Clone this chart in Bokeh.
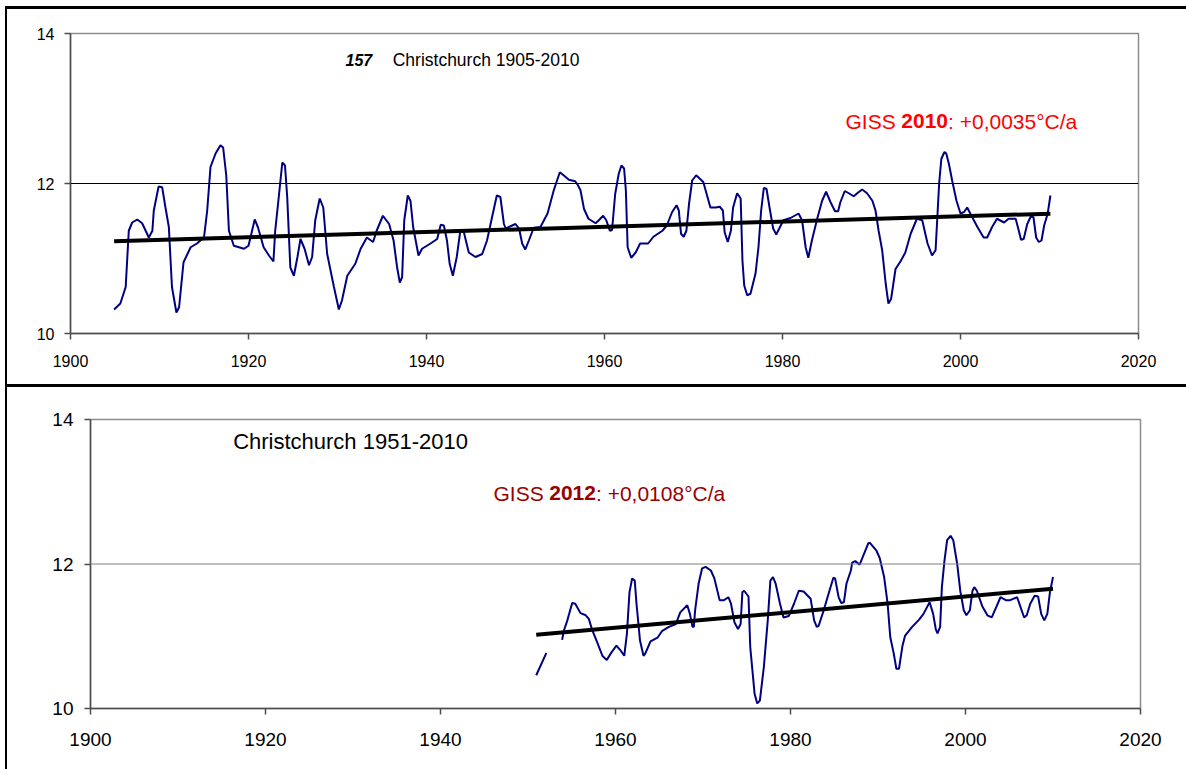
from bokeh.plotting import figure
from bokeh.layouts import column
from bokeh.models import Label, Span, FixedTicker, Range1d, InlineStyleSheet
from bokeh.embed import file_html
from bokeh.resources import INLINE

# ---- Christchurch, smoothed annual mean temperature (°C), 1905-2010 ----
top_year = [
    1904.9, 1905.6, 1906.2, 1906.55, 1906.93, 1907.5, 1908.05, 1908.8, 1909.2, 1909.36,
    1909.9, 1910.3, 1910.67, 1911.05, 1911.4, 1911.9, 1912.2, 1912.7, 1913.5, 1914.2,
    1915.0, 1915.36, 1915.73, 1916.3, 1916.85, 1917.15, 1917.5, 1917.8, 1918.35, 1919.5,
    1920.0, 1920.7, 1921.05, 1921.7, 1922.3, 1922.8, 1923.0, 1923.4, 1923.8, 1924.1,
    1924.35, 1924.7, 1925.1, 1925.5, 1925.84, 1926.3, 1926.8, 1927.15, 1927.5, 1928.0,
    1928.4, 1928.84, 1929.6, 1930.15, 1930.5, 1931.1, 1932.0, 1932.6, 1933.3, 1934.0,
    1934.4, 1935.1, 1935.8, 1936.3, 1936.7, 1937.0, 1937.26, 1937.5, 1937.9, 1938.2,
    1938.5, 1939.1, 1939.5, 1940.45, 1941.2, 1941.6, 1941.95, 1942.3, 1942.6, 1942.96,
    1943.4, 1943.8, 1944.2, 1944.75, 1945.5, 1946.26, 1946.8, 1947.4, 1947.9, 1948.3,
    1948.7, 1948.9, 1950.0, 1950.4, 1950.75, 1951.1, 1951.5, 1952.05, 1952.8, 1953.6,
    1954.3, 1954.98, 1955.4, 1956.0, 1956.7, 1957.0, 1957.3, 1957.7, 1958.2, 1959.0,
    1959.36, 1959.85, 1960.2, 1960.6, 1960.85, 1961.2, 1961.6, 1961.9, 1962.2, 1962.4,
    1962.6, 1963.0, 1963.5, 1964.0, 1964.9, 1965.5, 1966.5, 1967.0, 1967.6, 1968.1,
    1968.35, 1968.6, 1968.9, 1969.2, 1969.5, 1969.85, 1970.3, 1971.1, 1971.9, 1972.5,
    1972.95, 1973.3, 1973.5, 1973.85, 1974.2, 1974.45, 1974.9, 1975.3, 1975.5, 1975.7,
    1976.03, 1976.4, 1976.97, 1977.3, 1977.6, 1977.9, 1978.2, 1978.6, 1978.95, 1979.3,
    1980.1, 1980.9, 1981.8, 1982.2, 1982.6, 1982.9, 1983.3, 1983.9, 1984.45, 1984.9,
    1985.4, 1985.9, 1986.25, 1986.5, 1987.0, 1987.45, 1988.0, 1988.5, 1988.95, 1989.5,
    1990.1, 1990.45, 1990.8, 1991.2, 1991.6, 1991.9, 1992.2, 1992.7, 1993.3, 1993.8,
    1994.4, 1995.1, 1995.7, 1996.3, 1996.8, 1997.2, 1997.6, 1997.85, 1998.2, 1998.4,
    1998.7, 1999.06, 1999.55, 2000.0, 2000.4, 2000.75, 2001.1, 2001.9, 2002.6, 2003.0,
    2003.55, 2004.1, 2004.9, 2005.4, 2006.2, 2006.55, 2006.8, 2007.1, 2007.5, 2007.9,
    2008.2, 2008.5, 2008.8, 2009.1, 2009.4, 2009.8, 2010.1,
]
top_temp = [
    10.32, 10.40, 10.62, 11.37, 11.48, 11.52, 11.47, 11.28, 11.37, 11.64,
    11.96, 11.95, 11.68, 11.42, 10.62, 10.28, 10.35, 10.95, 11.15, 11.20,
    11.28, 11.64, 12.22, 12.40, 12.51, 12.48, 12.11, 11.37, 11.17, 11.13,
    11.17, 11.52, 11.42, 11.15, 11.04, 10.96, 11.37, 11.82, 12.28, 12.24,
    11.82, 10.88, 10.77, 11.02, 11.26, 11.13, 10.91, 11.02, 11.51, 11.80,
    11.68, 11.06, 10.62, 10.32, 10.44, 10.77, 10.93, 11.13, 11.28, 11.22,
    11.37, 11.57, 11.46, 11.24, 10.88, 10.68, 10.75, 11.51, 11.84, 11.77,
    11.42, 11.04, 11.13, 11.20, 11.26, 11.45, 11.44, 11.24, 10.93, 10.77,
    11.02, 11.37, 11.35, 11.08, 11.02, 11.06, 11.24, 11.57, 11.84, 11.82,
    11.46, 11.40, 11.46, 11.40, 11.20, 11.12, 11.24, 11.41, 11.42, 11.60,
    11.91, 12.15, 12.11, 12.05, 12.03, 11.98, 11.91, 11.66, 11.53, 11.47,
    11.51, 11.57, 11.51, 11.37, 11.38, 11.86, 12.13, 12.24, 12.20, 11.91,
    11.15, 11.01, 11.08, 11.20, 11.20, 11.29, 11.37, 11.44, 11.62, 11.71,
    11.64, 11.33, 11.29, 11.37, 11.73, 12.04, 12.11, 12.02, 11.68, 11.68,
    11.69, 11.64, 11.35, 11.22, 11.37, 11.68, 11.87, 11.80, 10.97, 10.64,
    10.51, 10.53, 10.80, 11.15, 11.64, 11.94, 11.93, 11.64, 11.40, 11.32,
    11.51, 11.54, 11.60, 11.51, 11.15, 11.01, 11.24, 11.53, 11.77, 11.89,
    11.75, 11.63, 11.63, 11.75, 11.90, 11.87, 11.83, 11.88, 11.92, 11.87,
    11.77, 11.64, 11.37, 11.11, 10.66, 10.40, 10.46, 10.86, 10.97, 11.08,
    11.33, 11.53, 11.51, 11.20, 11.04, 11.11, 12.00, 12.33, 12.42, 12.40,
    12.26, 12.04, 11.77, 11.60, 11.62, 11.68, 11.60, 11.42, 11.28, 11.28,
    11.42, 11.53, 11.48, 11.53, 11.53, 11.37, 11.25, 11.26, 11.46, 11.56,
    11.55, 11.28, 11.22, 11.24, 11.44, 11.60, 11.84,
]
top_trend_slope = 0.0035      # °C per year (GISS 2010)
top_trend_at_start = 11.23    # trend value at the first year

# ---- Christchurch, smoothed annual mean temperature (°C), 1951-2010 ----
NaN = float("nan")
bot_year = [
    1950.94, 1952.1, 1953.0, 1953.9, 1954.1, 1954.5, 1955.05, 1955.4, 1956.0, 1956.6,
    1956.95, 1957.3, 1957.9, 1958.5, 1959.0, 1959.5, 1960.1, 1960.6, 1961.0, 1961.3,
    1961.6, 1961.9, 1962.2, 1962.4, 1962.8, 1963.2, 1963.4, 1964.0, 1964.8, 1965.3,
    1966.1, 1966.9, 1967.4, 1968.2, 1968.5, 1968.8, 1968.95, 1969.1, 1969.5, 1969.9,
    1970.3, 1970.9, 1971.3, 1971.9, 1972.4, 1972.9, 1973.2, 1973.6, 1974.0, 1974.3,
    1974.5, 1974.7, 1975.2, 1975.4, 1975.9, 1976.2, 1976.5, 1976.95, 1977.4, 1977.7,
    1978.0, 1978.3, 1978.8, 1979.2, 1979.8, 1980.4, 1980.95, 1981.5, 1982.3, 1982.7,
    1983.0, 1983.2, 1983.8, 1984.4, 1984.9, 1985.1, 1985.5, 1985.8, 1986.1, 1986.4,
    1986.9, 1987.05, 1987.4, 1987.9, 1988.4, 1988.9, 1989.1, 1989.8, 1990.2, 1990.7,
    1991.1, 1991.4, 1991.8, 1992.1, 1992.4, 1992.8, 1993.1, 1993.9, 1994.7, 1995.2,
    1995.9, 1996.3, 1996.6, 1996.8, 1997.1, 1997.3, 1997.6, 1997.9, 1998.3, 1998.6,
    1999.05, 1999.4, 1999.8, 2000.1, 2000.5, 2000.8, 2001.0, 2001.3, 2001.9, 2002.5,
    2003.0, 2003.5, 2004.0, 2004.6, 2005.1, 2005.9, 2006.3, 2006.7, 2007.0, 2007.4,
    2007.9, 2008.3, 2008.65, 2009.0, 2009.35, 2009.65, 2010.0,
]
bot_temp = [
    10.46, 10.77, NaN, 10.95, 11.08, 11.22, 11.46, 11.45, 11.32, 11.29,
    11.24, 11.10, 10.92, 10.73, 10.67, 10.77, 10.87, 10.80, 10.73, 11.03,
    11.61, 11.80, 11.77, 11.45, 10.94, 10.73, 10.76, 10.93, 10.98, 11.07,
    11.13, 11.17, 11.33, 11.43, 11.31, 11.13, 11.13, 11.36, 11.73, 11.94,
    11.96, 11.91, 11.80, 11.50, 11.50, 11.54, 11.45, 11.19, 11.10, 11.17,
    11.61, 11.63, 11.55, 10.85, 10.20, 10.07, 10.11, 10.57, 11.22, 11.77,
    11.82, 11.73, 11.45, 11.26, 11.28, 11.45, 11.63, 11.62, 11.52, 11.22,
    11.13, 11.14, 11.36, 11.61, 11.81, 11.80, 11.54, 11.46, 11.47, 11.73,
    11.91, 12.02, 12.04, 11.99, 12.14, 12.29, 12.29, 12.19, 12.08, 11.82,
    11.45, 10.99, 10.76, 10.55, 10.55, 10.87, 11.01, 11.13, 11.23, 11.31,
    11.47, 11.31, 11.10, 11.04, 11.13, 11.68, 12.05, 12.33, 12.39, 12.33,
    12.00, 11.63, 11.36, 11.29, 11.36, 11.63, 11.68, 11.63, 11.42, 11.29,
    11.26, 11.40, 11.54, 11.50, 11.50, 11.54, 11.40, 11.26, 11.29, 11.45,
    11.56, 11.55, 11.31, 11.22, 11.31, 11.61, 11.82,
]
bot_trend_slope = 0.0108      # °C per year (GISS 2012)
bot_trend_at_start = 11.02

x_ticks = [1900, 1920, 1940, 1960, 1980, 2000, 2020]
y_ticks = [10, 12, 14]

FONT = "Liberation Sans"
NAVY = "#000080"


def make_panel(width, height, left, right, top, bottom, tick_size, grid_color, frame_css):
    p = figure(width=width, height=height, output_backend="svg", toolbar_location=None,
               x_range=Range1d(1900, 2020), y_range=Range1d(10, 14),
               min_border_left=left, min_border_right=right,
               min_border_top=top, min_border_bottom=bottom)
    if "frame_align" in p.properties():
        p.frame_align = False
    p.background_fill_color = "white"
    p.border_fill_color = "white"
    p.outline_line_color = "#8c8c8c"
    p.outline_line_width = 1.5
    p.xgrid.visible = False
    p.ygrid.visible = False
    p.xaxis.ticker = FixedTicker(ticks=x_ticks, minor_ticks=[])
    p.yaxis.ticker = FixedTicker(ticks=y_ticks, minor_ticks=[])
    for ax in (p.xaxis[0], p.yaxis[0]):
        ax.axis_line_color = "#4d4d4d"
        ax.axis_line_width = 1.5
        ax.major_tick_line_color = "#4d4d4d"
        ax.major_tick_line_width = 1.5
        ax.major_tick_out = 6
        ax.major_tick_in = 0
        ax.minor_tick_out = 0
        ax.minor_tick_in = 0
        ax.major_label_text_font = FONT
        ax.major_label_text_font_size = tick_size
        ax.major_label_text_color = "black"
    p.add_layout(Span(location=12, dimension="width", line_color=grid_color, line_width=1))
    # black page frame drawn over the canvas
    p.stylesheets = [InlineStyleSheet(css=(
        ":host { position: relative; }"
        ":host::after { content: ''; position: absolute; pointer-events: none; "
        "z-index: 50; box-sizing: border-box; " + frame_css + " }"))]
    return p


def label(p, x, y, text, size, color="black", style="normal"):
    p.add_layout(Label(x=x, y=y, text=text, text_font=FONT, text_font_size=size,
                       text_font_style=style, text_color=color, text_baseline="middle"))


def trend(years, slope, start_value):
    xs = [years[0], years[-1]]
    ys = [start_value + slope * (x - years[0]) for x in xs]
    return xs, ys


# ---------------- top panel ----------------
p1 = make_panel(1186, 386, 70, 48, 33, 53, "16px", "black",
                "left: 5px; top: 6px; right: 0; bottom: 0; "
                "border-left: 2px solid black; border-top: 3px solid black; "
                "border-bottom: 2px solid black;")
p1.xaxis[0].major_label_standoff = 15
p1.yaxis[0].major_label_standoff = 10
p1.line(top_year, top_temp, line_color=NAVY, line_width=2)
tx, ty = trend(top_year, top_trend_slope, top_trend_at_start)
p1.line(tx, ty, line_color="black", line_width=4)

label(p1, 1930.9, 13.65, "157", "16px", style="bold italic")
label(p1, 1936.2, 13.65, "Christchurch 1905-2010", "17.5px")
label(p1, 1987.08, 12.83, "GISS", "21px", color="red")
label(p1, 1993.35, 12.83, "2010", "21px", color="red", style="bold")
label(p1, 1998.6, 12.83, ": +0,0035°C/a", "21px", color="red")

# ---------------- bottom panel ----------------
p2 = make_panel(1186, 383, 90, 46, 33, 61, "19px", "#808080",
                "left: 5px; top: 0; right: 0; bottom: 0; "
                "border-left: 2px solid black; border-top: 1px solid black;")
p2.xaxis[0].major_label_standoff = 18
p2.yaxis[0].major_label_standoff = 11
p2.line(bot_year, bot_temp, line_color=NAVY, line_width=2)
bx, by = trend(bot_year, bot_trend_slope, bot_trend_at_start)
p2.line(bx, by, line_color="black", line_width=4)

label(p2, 1916.3, 13.69, "Christchurch 1951-2010", "22px")
label(p2, 1946.06, 12.98, "GISS", "21px", color="#990000")
label(p2, 1952.43, 12.98, "2012", "21px", color="#990000", style="bold")
label(p2, 1957.77, 12.98, ": +0,0108°C/a", "21px", color="#990000")

layout = column(p1, p2, spacing=0)
open("out.html", "w").write(file_html(layout, INLINE))
